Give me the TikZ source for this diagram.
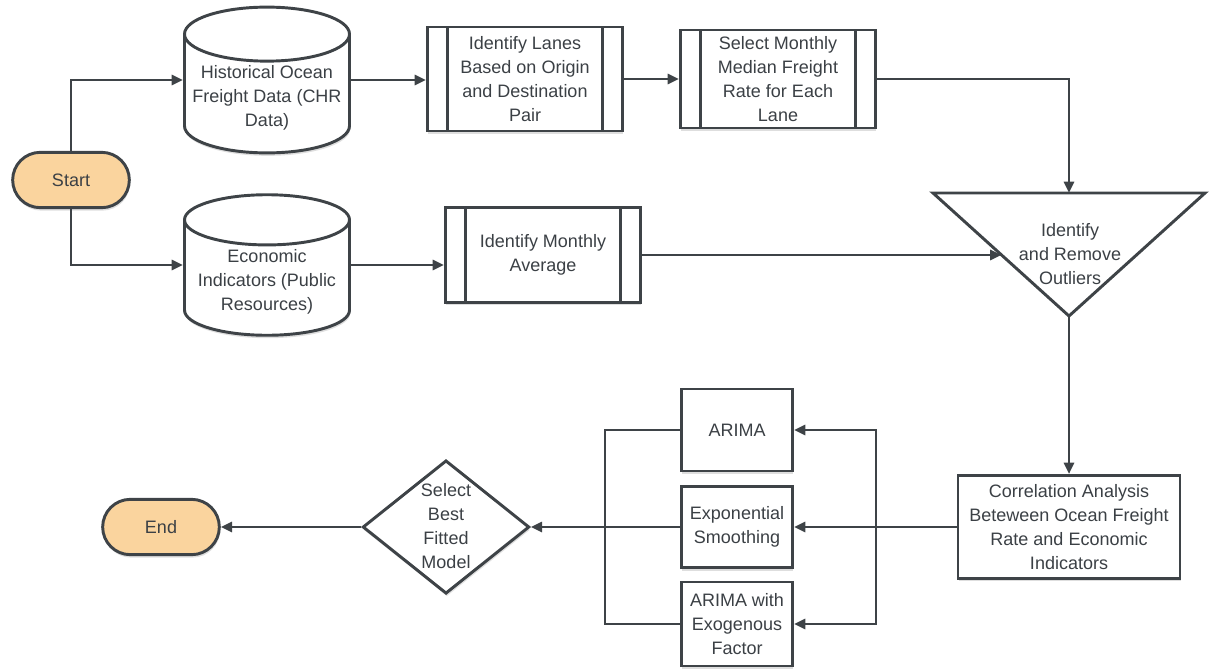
\documentclass[tikz,border=0pt]{standalone}
\usepackage{fontspec}
\setmainfont{Liberation Sans}
\usepackage{xcolor}
\definecolor{edge}{HTML}{3E4347}
\definecolor{ink}{HTML}{3B4045}
\definecolor{terminal}{HTML}{FAD49E}
\usepackage{tikz}
\usetikzlibrary{arrows.meta,shapes.geometric,shapes.misc,shadows,calc}

\tikzset{
  base/.style={draw=edge, line width=2.2pt, fill=white, text=ink, align=center,
    inner sep=2pt, font=\fontsize{13.5}{18}\selectfont},
  soft/.style={drop shadow={shadow xshift=0.6pt, shadow yshift=-2.2pt, opacity=0.13, fill=black}},
  terminal/.style={base, soft, rounded rectangle, fill=terminal, minimum width=91.5pt, minimum height=41.5pt},
  store/.style={base, soft, cylinder, shape border rotate=90, aspect=0.35, minimum width=123.75pt, minimum height=105pt, anchor=shape center},
  subproc/.style={base, soft, rectangle, minimum width=146.25pt, path picture={
      \draw[edge, line width=2.2pt] ([xshift=15pt]path picture bounding box.north west) -- ([xshift=15pt]path picture bounding box.south west);
      \draw[edge, line width=2.2pt] ([xshift=-15pt]path picture bounding box.north east) -- ([xshift=-15pt]path picture bounding box.south east);}},
  process/.style={base, soft, rectangle},
  decision/.style={base, soft, diamond, minimum width=125pt, minimum height=100pt, inner sep=0pt},
  label/.style={text=ink, align=center, font=\fontsize{13.5}{18}\selectfont},
  line/.style={draw=edge, line width=2.1pt},
  arr/.style={line, -{Triangle[length=8.5pt,width=7.5pt]}}
}

\begin{document}
\begin{tikzpicture}[x=0.75pt, y=-0.75pt]
  \useasboundingbox (0,0) rectangle (1212,668);

  % inputs
  \node (start) at (71,180) [terminal] {Start};
  \node (hist) at (267,80) [store] {Historical Ocean\\Freight Data (CHR\\Data)};
  \node (econ) at (267,265) [store] {Economic\\Indicators (Public\\Resources)};
  \coordinate (histL) at (hist.shape center -| hist.west);
  \coordinate (histR) at (hist.shape center -| hist.east);
  \coordinate (econL) at (econ.shape center -| econ.west);
  \coordinate (econR) at (econ.shape center -| econ.east);

  % preparation
  \node (lanes) at (525,79) [subproc, minimum height=78pt] {Identify Lanes\\Based on Origin\\and Destination\\Pair};
  \node (median) at (778,79) [subproc, minimum height=73.5pt] {Select Monthly\\Median Freight\\Rate for Each\\Lane};
  \node (avg) at (543,255) [subproc, minimum height=71.25pt] {Identify Monthly\\Average};

  % outlier step (drawn as a triangle)
  \coordinate (triNW) at (933,193);
  \coordinate (triNE) at (1205,193);
  \coordinate (triS) at (1069,316);
  \coordinate (triTop) at (1069,193);
  \coordinate (triIn) at ($(triNW)!0.504!(triS)$);
  \draw[line, line width=2.2pt, fill=white, line join=miter] (triNW) -- (triNE) -- (triS) -- cycle;
  \node (outliers) at (1070,254) [label] {Identify\\and Remove\\Outliers};

  % models
  \node (corr) at (1069,527) [process, minimum width=166.5pt, minimum height=77.25pt] {Correlation Analysis\\Beteween Ocean Freight\\Rate and Economic\\Indicators};
  \node (arima) at (737,430) [process, minimum width=83.25pt, minimum height=61.5pt] {ARIMA};
  \node (expo) at (737,527) [process, minimum width=83.25pt, minimum height=61pt] {Exponential\\Smoothing};
  \node (arimax) at (737,624) [process, minimum width=83.25pt, minimum height=63pt] {ARIMA with\\Exogenous\\Factor};
  \coordinate (fork) at (876,527);
  \coordinate (join) at (605,527);

  \node (select) at (446,527) [decision] {};
  \node (selectText) at (446,526) [label] {Select\\Best\\Fitted\\Model};
  \node (stop) at (161,527) [terminal] {End};

  % connectors
  \draw[arr] (start.north) |- (histL);
  \draw[arr] (start.south) |- (econL);
  \draw[arr] (histR) -- (histR -| lanes.west);
  \draw[arr] (lanes.east) -- (median.west);
  \draw[arr] (median.east) -| (triTop);
  \draw[arr] (econR) -- (econR -| avg.west);
  \draw[arr] (avg.east) -- (avg.east -| triIn);
  \draw[arr] (triS) -- (corr.north);
  \draw[line] (corr.west) -- (fork);
  \draw[arr] (fork) |- (arima.east);
  \draw[arr] (fork) -- (expo.east);
  \draw[arr] (fork) |- (arimax.east);
  \draw[line] (arima.west) -| (join);
  \draw[line] (arimax.west) -| (join);
  \draw[arr] (expo.west) -- (select.east);
  \draw[arr] (select.west) -- (stop.east);
\end{tikzpicture}
\end{document}
